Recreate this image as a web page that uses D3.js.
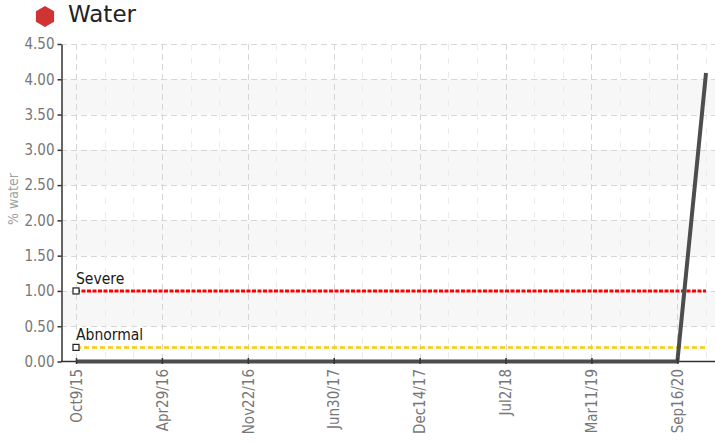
<!DOCTYPE html>
<html>
<head>
<meta charset="utf-8">
<script src="https://cdn.jsdelivr.net/npm/d3@7"></script>
<style>
  body { margin: 0; background: #fff; }
</style>
</head>
<body>
<div id="viz"></div>
<script>
const width = 715;
const height = 443;
const margin = {top: 44, right: 0, bottom: 82, left: 61};

// Sample dates (x categories) and measured water %
const sampleDates = [
  'Oct9/15', 'Dec10/15', 'Feb18/16', 'Apr29/16', 'Jul6/16', 'Sep14/16',
  'Nov22/16', 'Feb1/17', 'Apr12/17', 'Jun30/17', 'Aug24/17', 'Oct19/17',
  'Dec14/17', 'Feb22/18', 'Apr27/18', 'Jul2/18', 'Sep20/18', 'Dec6/18',
  'Mar11/19', 'Aug15/19', 'Feb3/20', 'Sep16/20', 'Oct14/20'
];
const waterValues = [
  0, 0, 0, 0, 0, 0, 0, 0, 0, 0, 0, 0,
  0, 0, 0, 0, 0, 0, 0, 0, 0, 0, 4.09
];
const xTickIndexes = [0, 3, 6, 9, 12, 15, 18, 21];
const yTicks = [0, 0.5, 1, 1.5, 2, 2.5, 3, 3.5, 4, 4.5];
const limitNames = ['Severe', 'Abnormal'];
const limitValues = [1.0, 0.2];
const limitColors = ['#ff0000', '#ffcc00'];

const svg = d3.select('#viz')
  .append('svg')
    .attr('width', width)
    .attr('height', height);

// Title with hexagon icon
const hex = d3.range(6).map(i => {
  const a = Math.PI / 3 * i - Math.PI / 2;
  return [45 + 10.5 * Math.cos(a), 16.5 + 10.5 * Math.sin(a)];
});
svg.append('path')
  .attr('d', 'M' + hex.join('L') + 'Z')
  .attr('fill', '#d03333');
svg.append('text')
  .attr('x', 68)
  .attr('y', 22)
  .text('Water')
  .attr('fill', '#222')
  .style('font-family', 'DejaVu Sans')
  .style('font-size', '23px');

// Scales
const plotBottom = height - margin.bottom;
const yScale = d3.scaleLinear()
  .domain([0, 4.5])
  .range([plotBottom + 0.5, margin.top]);
const xScale = d3.scalePoint()
  .domain(d3.range(sampleDates.length))
  .range([76, 706]);

// Alternating bands
const bands = yTicks.filter((t, i) => i % 2 === 1 && t < 4.5);
svg.append('g')
  .selectAll('rect')
  .data(bands)
  .join('rect')
    .attr('x', margin.left)
    .attr('y', d => yScale(d + 0.5))
    .attr('width', width - margin.left)
    .attr('height', d => yScale(d) - yScale(d + 0.5))
    .attr('fill', '#f7f7f7');

// Horizontal grid
svg.append('g')
  .selectAll('line')
  .data(yTicks.filter(t => t > 0))
  .join('line')
    .attr('x1', margin.left)
    .attr('x2', width)
    .attr('y1', d => Math.round(yScale(d)) + 0.5)
    .attr('y2', d => Math.round(yScale(d)) + 0.5)
    .attr('stroke', '#d6d6d6')
    .attr('stroke-dasharray', '6,4');

// Vertical grid: minor at every sample, major at labelled ticks
svg.append('g')
  .selectAll('line')
  .data(d3.range(sampleDates.length))
  .join('line')
    .attr('x1', d => Math.round(xScale(d)) + 0.5)
    .attr('x2', d => Math.round(xScale(d)) + 0.5)
    .attr('y1', margin.top)
    .attr('y2', plotBottom)
    .attr('stroke', d => xTickIndexes.includes(d) ? '#d6d6d6' : '#ebebeb')
    .attr('stroke-dasharray', d => xTickIndexes.includes(d) ? '6,4' : '6,8');

// Y axis
const yAxis = d3.axisLeft(yScale)
  .tickValues(yTicks)
  .tickFormat(d3.format('.2f'))
  .tickSize(4)
  .tickSizeOuter(0);
const yAxisGroup = svg.append('g')
  .attr('transform', `translate(${margin.left + 0.5}, 0)`)
  .call(yAxis);
yAxisGroup.select('.domain').attr('stroke', '#333').attr('stroke-width', 1.5);
yAxisGroup.selectAll('.tick line').attr('stroke', '#333').attr('stroke-width', 1.5);
yAxisGroup.selectAll('.tick text')
  .attr('x', -7)
  .attr('fill', '#777')
  .style('font-family', 'DejaVu Sans Condensed')
  .style('font-size', '15px');

svg.append('text')
  .attr('transform', `translate(18, 199) rotate(-90)`)
  .attr('text-anchor', 'middle')
  .text('% water')
  .attr('fill', '#a0a0a0')
  .style('font-family', 'DejaVu Sans Condensed')
  .style('font-size', '14px');

// X axis
svg.append('line')
  .attr('x1', margin.left)
  .attr('x2', width)
  .attr('y1', plotBottom + 0.5)
  .attr('y2', plotBottom + 0.5)
  .attr('stroke', '#333')
  .attr('stroke-width', 1.5);

// Limit lines
limitValues.forEach((v, i) => {
  svg.append('line')
    .attr('x1', xScale(0))
    .attr('x2', xScale(sampleDates.length - 1))
    .attr('y1', yScale(v))
    .attr('y2', yScale(v))
    .attr('stroke', limitColors[i])
    .attr('stroke-width', i === 0 ? 3 : 2.5)
    .attr('stroke-dasharray', i === 0 ? '4,1.5' : '5,3');
  svg.append('rect')
    .attr('x', xScale(0) - 3)
    .attr('y', yScale(v) - 3)
    .attr('width', 6)
    .attr('height', 6)
    .attr('fill', '#fff')
    .attr('stroke', '#222')
    .attr('stroke-width', 1.2);
  svg.append('text')
    .attr('x', xScale(0))
    .attr('y', yScale(v) - 7)
    .text(limitNames[i])
    .attr('fill', '#1a1a1a')
    .attr('stroke', '#fff')
    .attr('stroke-width', 3)
    .attr('paint-order', 'stroke')
    .style('font-family', 'DejaVu Sans Condensed')
    .style('font-size', '15.5px');
});

// Data line
const line = d3.line()
  .x((d, i) => xScale(i))
  .y(d => yScale(d));
svg.append('path')
  .attr('d', line(waterValues))
  .attr('fill', 'none')
  .attr('stroke', '#4d4d4d')
  .attr('stroke-width', 4)
  .attr('stroke-linejoin', 'round');

const xAxis = d3.axisBottom(xScale)
  .tickValues(xTickIndexes)
  .tickFormat(i => sampleDates[i])
  .tickSize(3)
  .tickSizeOuter(0);
const xAxisGroup = svg.append('g')
  .attr('transform', `translate(0, ${plotBottom})`)
  .call(xAxis);
xAxisGroup.select('.domain').remove();
xAxisGroup.selectAll('.tick line')
  .attr('y1', -3)
  .attr('stroke', '#333')
  .attr('stroke-width', 1.5);
xAxisGroup.selectAll('.tick text')
  .attr('transform', 'rotate(-90)')
  .attr('text-anchor', 'end')
  .attr('x', -8)
  .attr('y', 0)
  .attr('dy', '0.35em')
  .attr('fill', '#777')
  .style('font-family', 'DejaVu Sans Condensed')
  .style('font-size', '15px');
</script>
</body>
</html>
